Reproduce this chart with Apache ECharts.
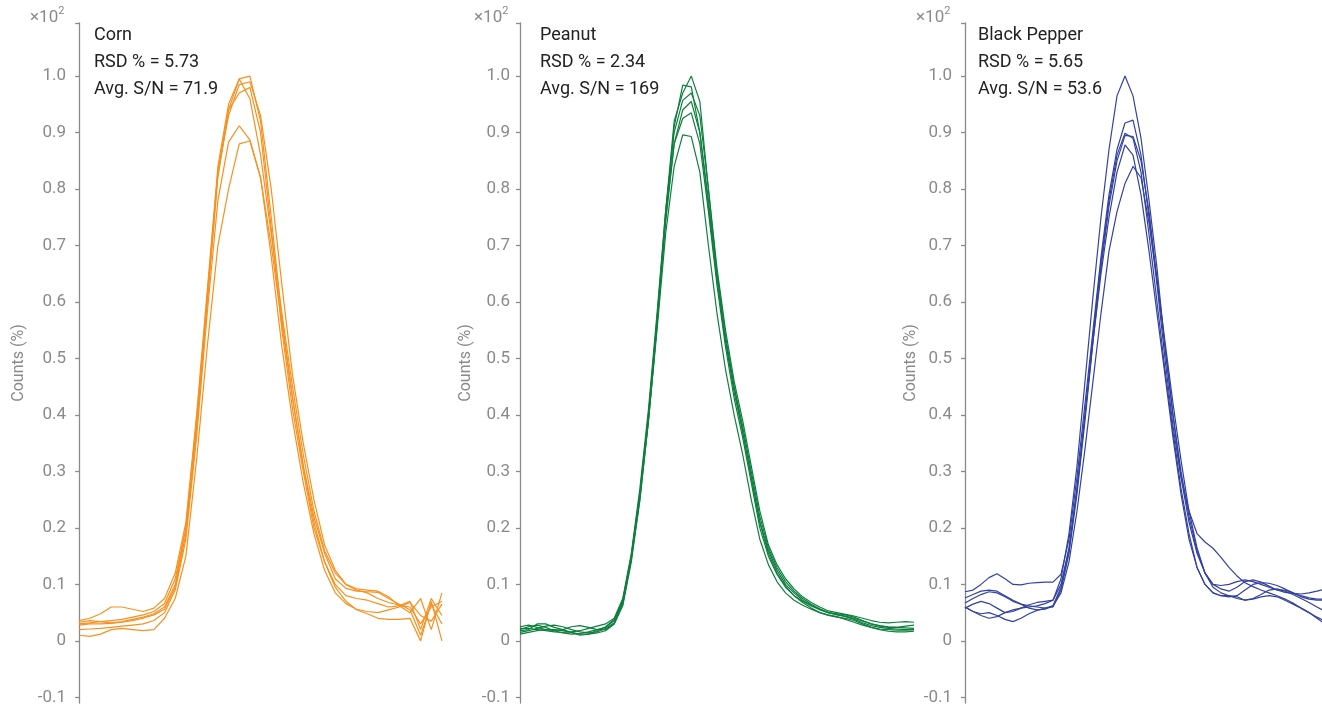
<!DOCTYPE html>
<html><head><meta charset="utf-8">
<script src="https://cdn.jsdelivr.net/npm/echarts@6/dist/echarts.min.js"></script>
<style>html,body{margin:0;padding:0;background:#fff}#c{width:1322px;height:710px}</style>
</head><body><div id="c"></div>
<script>
// ---- data (values in units of x10^2 %) ----
const yTicks = [-0.1, 0, 0.1, 0.2, 0.3, 0.4, 0.5, 0.6, 0.7, 0.8, 0.9, 1.0];
const panelNames = ['Corn', 'Peanut', 'Black Pepper'];
const rsdValues = ['5.73', '2.34', '5.65'];
const snValues = ['71.9', '169', '53.6'];

const corn1 = [0.036,0.04,0.048,0.06,0.06,0.056,0.052,0.058,0.075,0.12,0.21,0.40,0.62,0.84,0.95,0.995,1.0,0.92,0.75,0.57,0.43,0.31,0.22,0.155,0.11,0.093,0.088,0.087,0.086,0.075,0.065,0.055,0.01,0.065,0.03];
const corn2 = [0.03,0.032,0.034,0.036,0.038,0.042,0.046,0.052,0.066,0.11,0.2,0.38,0.6,0.83,0.94,0.97,0.98,0.9,0.73,0.55,0.41,0.3,0.2,0.14,0.1,0.08,0.075,0.072,0.066,0.06,0.062,0.07,0.02,0.075,0.045];
const corn3 = [0.028,0.03,0.03,0.031,0.033,0.036,0.04,0.046,0.056,0.095,0.19,0.37,0.6,0.82,0.94,0.995,0.96,0.86,0.72,0.58,0.45,0.33,0.23,0.16,0.12,0.1,0.092,0.09,0.088,0.078,0.062,0.05,0.075,0.02,0.085];
const corn4 = [0.02,0.021,0.022,0.024,0.026,0.028,0.03,0.036,0.05,0.09,0.18,0.36,0.58,0.78,0.883,0.912,0.887,0.82,0.68,0.52,0.39,0.28,0.19,0.125,0.085,0.066,0.056,0.052,0.05,0.055,0.06,0.068,0.045,0.035,0.065];
const corn5 = [0.01,0.008,0.012,0.02,0.022,0.02,0.018,0.02,0.04,0.075,0.15,0.32,0.52,0.7,0.80,0.88,0.885,0.82,0.7,0.56,0.43,0.31,0.21,0.14,0.095,0.07,0.055,0.048,0.04,0.038,0.038,0.04,0.0,0.07,0.0];
const corn6 = [0.033,0.036,0.034,0.032,0.034,0.038,0.042,0.048,0.06,0.1,0.2,0.39,0.61,0.83,0.93,0.985,0.99,0.93,0.8,0.63,0.47,0.35,0.25,0.17,0.125,0.1,0.09,0.085,0.075,0.068,0.063,0.06,0.03,0.06,0.07];

const peanut1 = [0.02,0.025,0.028,0.024,0.018,0.014,0.012,0.013,0.016,0.02,0.024,0.036,0.07,0.15,0.26,0.4,0.57,0.76,0.92,0.97,1.0,0.955,0.8,0.65,0.53,0.44,0.37,0.29,0.21,0.16,0.125,0.1,0.085,0.072,0.063,0.056,0.05,0.046,0.043,0.038,0.032,0.027,0.024,0.022,0.021,0.02,0.02];
const peanut2 = [0.015,0.018,0.022,0.026,0.028,0.025,0.02,0.016,0.014,0.016,0.022,0.032,0.065,0.145,0.25,0.39,0.56,0.75,0.91,0.984,0.981,0.9,0.77,0.64,0.53,0.45,0.38,0.3,0.22,0.165,0.13,0.105,0.088,0.075,0.065,0.057,0.05,0.047,0.044,0.04,0.035,0.03,0.027,0.025,0.024,0.023,0.022];
const peanut3 = [0.022,0.022,0.02,0.018,0.016,0.015,0.016,0.018,0.022,0.026,0.03,0.04,0.075,0.155,0.27,0.41,0.58,0.76,0.9,0.957,0.97,0.93,0.8,0.66,0.55,0.46,0.39,0.31,0.23,0.17,0.135,0.11,0.092,0.078,0.068,0.06,0.053,0.05,0.047,0.044,0.04,0.036,0.033,0.032,0.033,0.034,0.033];
const peanut4 = [0.012,0.015,0.018,0.02,0.02,0.018,0.015,0.012,0.012,0.014,0.018,0.03,0.062,0.14,0.25,0.39,0.56,0.74,0.88,0.94,0.955,0.9,0.78,0.65,0.54,0.45,0.37,0.29,0.21,0.155,0.12,0.097,0.08,0.068,0.058,0.05,0.045,0.042,0.04,0.036,0.03,0.024,0.02,0.017,0.016,0.016,0.017];
const peanut5 = [0.025,0.028,0.024,0.02,0.018,0.02,0.025,0.027,0.024,0.02,0.02,0.03,0.066,0.15,0.26,0.4,0.57,0.75,0.88,0.925,0.935,0.88,0.76,0.63,0.52,0.43,0.36,0.28,0.2,0.15,0.118,0.095,0.08,0.07,0.062,0.055,0.05,0.048,0.046,0.042,0.036,0.03,0.026,0.024,0.024,0.026,0.028];
const peanut6 = [0.018,0.02,0.03,0.03,0.024,0.02,0.015,0.01,0.012,0.018,0.025,0.038,0.072,0.15,0.26,0.39,0.55,0.72,0.84,0.896,0.893,0.83,0.7,0.58,0.48,0.4,0.33,0.25,0.18,0.135,0.105,0.085,0.072,0.063,0.056,0.05,0.046,0.043,0.038,0.033,0.028,0.024,0.021,0.02,0.019,0.019,0.02];

const pepper1 = [0.06,0.052,0.045,0.04,0.043,0.05,0.055,0.058,0.06,0.062,0.066,0.072,0.11,0.19,0.31,0.46,0.61,0.75,0.87,0.965,1.0,0.965,0.89,0.78,0.66,0.52,0.4,0.29,0.21,0.155,0.12,0.1,0.098,0.1,0.105,0.108,0.105,0.1,0.095,0.09,0.09,0.085,0.08,0.076,0.074,0.074];
const pepper2 = [0.087,0.09,0.1,0.112,0.119,0.11,0.1,0.099,0.102,0.103,0.104,0.104,0.118,0.18,0.29,0.42,0.55,0.68,0.79,0.87,0.917,0.922,0.86,0.75,0.63,0.5,0.38,0.29,0.23,0.19,0.175,0.164,0.148,0.13,0.115,0.103,0.096,0.09,0.085,0.08,0.074,0.067,0.058,0.05,0.04,0.03];
const pepper3 = [0.076,0.082,0.088,0.09,0.088,0.08,0.072,0.065,0.058,0.055,0.056,0.062,0.095,0.16,0.27,0.4,0.54,0.67,0.78,0.86,0.899,0.89,0.83,0.72,0.6,0.48,0.37,0.27,0.19,0.13,0.1,0.085,0.08,0.078,0.08,0.09,0.1,0.103,0.102,0.098,0.092,0.085,0.078,0.074,0.072,0.072];
const pepper4 = [0.067,0.075,0.082,0.087,0.085,0.078,0.07,0.065,0.062,0.06,0.058,0.06,0.09,0.155,0.26,0.39,0.53,0.66,0.77,0.85,0.895,0.893,0.85,0.76,0.64,0.52,0.4,0.3,0.22,0.16,0.12,0.1,0.092,0.088,0.095,0.105,0.108,0.104,0.097,0.09,0.086,0.084,0.083,0.085,0.088,0.092];
const pepper5 = [0.058,0.065,0.07,0.066,0.058,0.05,0.052,0.058,0.064,0.068,0.07,0.072,0.1,0.165,0.27,0.4,0.53,0.65,0.75,0.83,0.878,0.86,0.79,0.69,0.58,0.47,0.36,0.26,0.18,0.13,0.1,0.085,0.08,0.08,0.078,0.072,0.075,0.082,0.09,0.092,0.088,0.082,0.075,0.068,0.06,0.052];
const pepper6 = [0.06,0.052,0.048,0.05,0.045,0.038,0.034,0.04,0.048,0.054,0.058,0.062,0.085,0.14,0.23,0.34,0.46,0.58,0.69,0.76,0.81,0.84,0.82,0.74,0.64,0.53,0.42,0.32,0.23,0.165,0.12,0.095,0.085,0.08,0.075,0.072,0.074,0.078,0.08,0.078,0.072,0.065,0.058,0.05,0.042,0.035];

const panelData = [
  [corn1, corn2, corn3, corn4, corn5, corn6],
  [peanut1, peanut2, peanut3, peanut4, peanut5, peanut6],
  [pepper1, pepper2, pepper3, pepper4, pepper5, pepper6]
];
const panelColors = ['#F7901E', '#0E7F3E', '#3342A0'];

// ---- layout ----
const axisX = [76, 518, 960];
const gridW = [367, 396, 362];
const xRange = [[-0.3, 34.1], [-0.23, 46], [-0.625, 44.625]];
const nameGaps = [49, 44, 41];
const labelMargins = [10, 8, 8];
const textX = [94, 540, 978];
const FONT = 'Roboto, "Noto Sans", sans-serif';
const gray = '#8a8a8a';

const grids = [], xAxes = [], yAxes = [], series = [], graphics = [];
for (let p = 0; p < 3; p++) {
  grids.push({ left: axisX[p], top: 23, width: gridW[p], height: 680 });
  xAxes.push({ gridIndex: p, type: 'value', min: xRange[p][0], max: xRange[p][1], show: false });
  yAxes.push({
    gridIndex: p, type: 'value', min: -0.11, max: 1.094,
    name: 'Counts (%)', nameLocation: 'middle', nameGap: nameGaps[p],
    nameTextStyle: { color: gray, fontSize: 16, fontFamily: FONT },
    axisLine: { show: true, lineStyle: { color: gray, width: 1.3 } },
    axisTick: { show: true, length: 4, customValues: yTicks.concat([1.094]), lineStyle: { color: gray, width: 1.3 } },
    axisLabel: { customValues: yTicks, color: gray, fontSize: 17, fontFamily: FONT, margin: labelMargins[p],
      formatter: v => (Math.abs(v) < 1e-9 ? '0' : v.toFixed(1)) },
    splitLine: { show: false }
  });
  panelData[p].forEach(arr => {
    series.push({
      type: 'line', xAxisIndex: p, yAxisIndex: p, symbol: 'none', animation: false,
      lineStyle: { color: panelColors[p], width: 1.2 },
      data: arr.map((v, i) => [i, v])
    });
  });
  graphics.push({ type: 'text', left: axisX[p] - (p === 0 ? 46 : 44), top: 6,
    style: { text: '{a|×10}{s|2}', fill: gray,
      rich: { a: { fontSize: 17, fontFamily: FONT, fill: gray, verticalAlign: 'bottom', lineHeight: 20 },
              s: { fontSize: 11, fontFamily: FONT, fill: gray, verticalAlign: 'top', lineHeight: 20, padding: [0, 0, 8, 0] } } } });
  const lines = [panelNames[p], 'RSD % = ' + rsdValues[p], 'Avg. S/N = ' + snValues[p]];
  lines.forEach((t, k) => {
    graphics.push({ type: 'text', left: textX[p], top: 26 + k * 27,
      style: { text: t, fill: '#222', font: '18px ' + FONT } });
  });
}

const chart = echarts.init(document.getElementById('c'), null, { renderer: 'canvas' });
chart.setOption({
  backgroundColor: '#fff',
  animation: false,
  grid: grids, xAxis: xAxes, yAxis: yAxes, series: series, graphic: graphics
});
</script></body></html>
